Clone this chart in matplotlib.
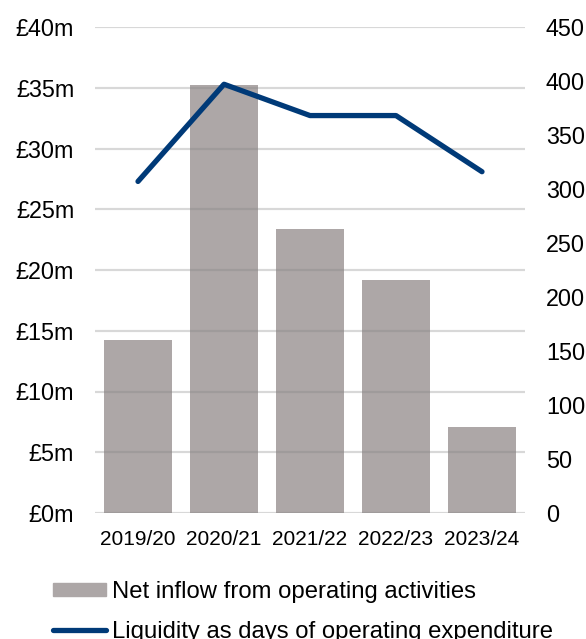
import matplotlib.pyplot as plt
from matplotlib.patches import Patch
from matplotlib.lines import Line2D

plt.rcParams['font.family'] = ['Liberation Sans', 'DejaVu Sans']

years = ['2019/20', '2020/21', '2021/22', '2022/23', '2023/24']
net_inflow = [14.2, 35.2, 23.4, 19.2, 7.1]        # £m
liquidity_days = [307, 397, 368, 368, 316]

BAR = '#ADA7A7'
NAVY = '#003A78'

fig = plt.figure(figsize=(5.86, 6.39), dpi=100)
ax = fig.add_axes([95/586, 1 - 513/639, 430/586, 486/639])
ax2 = ax.twinx()

x = range(len(years))
ax.bar(x, net_inflow, width=0.79, color=BAR, zorder=1)
ax.set_xlim(-0.5, 4.5)
ax.set_ylim(0, 40)
ax.set_yticks(range(0, 41, 5))
ax.set_yticklabels([f'£{v}m' for v in range(0, 41, 5)])
# light gridlines that show faintly across the bars
for v in range(0, 41, 5):
    ax.axhline(v, color='#808080', lw=1.6, zorder=2, alpha=0.3)

ax2.plot(x, liquidity_days, color=NAVY, lw=3.8, solid_capstyle='round', zorder=3)
ax2.set_ylim(0, 450)
ax2.set_yticks(range(0, 451, 50))

ax.set_xticks(list(x))
ax.set_xticklabels(years, fontsize=15)
for a in (ax, ax2):
    for s in a.spines.values():
        s.set_visible(False)
    a.tick_params(length=0)
ax.tick_params(axis='y', labelsize=16.8, pad=15)
ax2.tick_params(axis='y', labelsize=16.8, pad=15)
ax.tick_params(axis='x', pad=12)

handles = [Patch(color=BAR), Line2D([0], [0], color=NAVY, lw=3.8, solid_capstyle='round')]
labels = ['Net inflow from operating activities',
          'Liquidity as days of operating expenditure']
fig.legend(handles, labels, loc='upper left', bbox_to_anchor=(53/586, 1 - 581/639),
           frameon=False, fontsize=17.2, handlelength=2.2, handleheight=0.47,
           handletextpad=0.25, labelspacing=0.74, borderpad=0, borderaxespad=0)

fig.savefig('out.png', dpi=100)
